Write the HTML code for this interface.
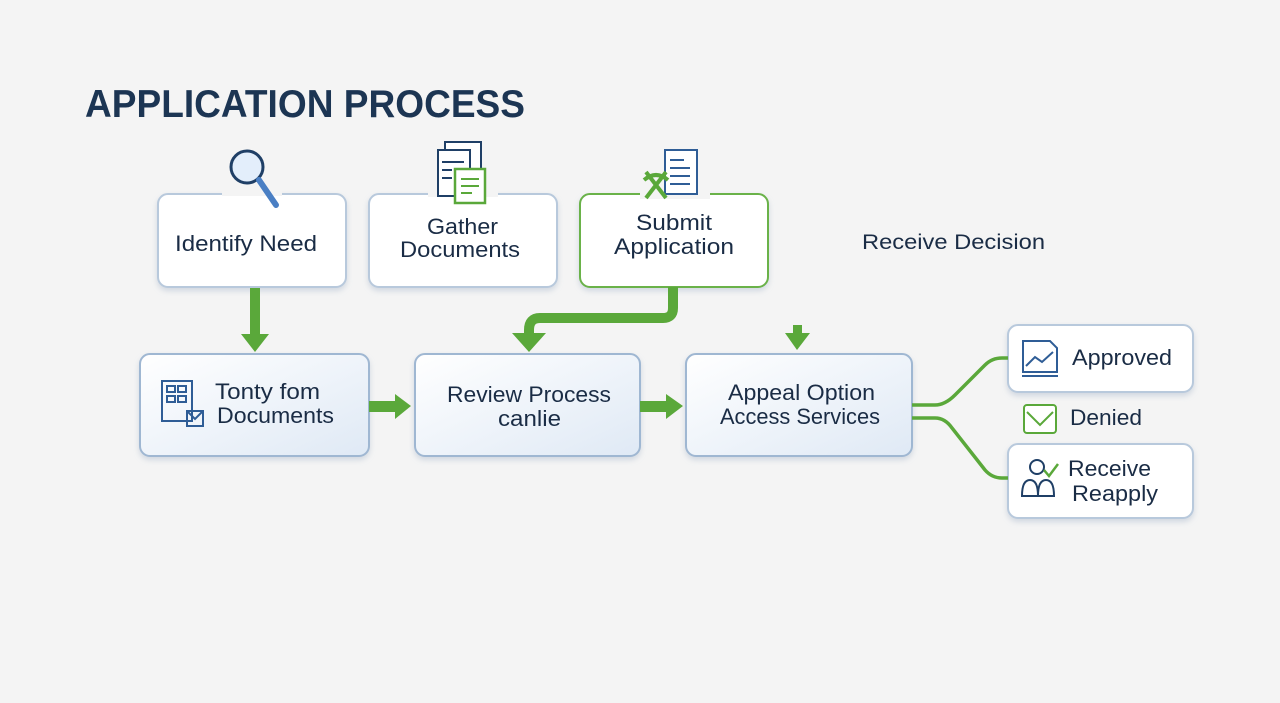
<!DOCTYPE html>
<html><head><meta charset="utf-8"><style>
body{margin:0;width:1280px;height:698px;background:#f4f4f4;overflow:hidden}
svg text{font-family:"Liberation Sans",sans-serif;fill:#1a2c45}
</style></head><body>
<svg width="1280" height="698" viewBox="0 0 1280 698">
<defs>
<linearGradient id="g" x1="0" y1="0" x2="1" y2="1"><stop offset="0" stop-color="#fff"/><stop offset="1" stop-color="#dfe9f5"/></linearGradient>
<filter id="s" x="-10%" y="-10%" width="120%" height="130%"><feDropShadow dx="0" dy="3" stdDeviation="3" flood-color="#8fa3bd" flood-opacity="0.35"/></filter>
</defs>
<text x="85" y="117" font-size="39" font-weight="bold" textLength="440" lengthAdjust="spacingAndGlyphs" style="fill:#1c3553">APPLICATION PROCESS</text>

<g filter="url(#s)">
<rect x="158" y="194" width="188" height="93" rx="10" fill="#fff" stroke="#b8c9dc" stroke-width="2"/>
<rect x="369" y="194" width="188" height="93" rx="10" fill="#fff" stroke="#b8c9dc" stroke-width="2"/>
<rect x="580" y="194" width="188" height="93" rx="10" fill="#fff" stroke="#6bb24a" stroke-width="2"/>
<rect x="140" y="354" width="229" height="102" rx="10" fill="url(#g)" stroke="#9fb7d2" stroke-width="2"/>
<rect x="415" y="354" width="225" height="102" rx="10" fill="url(#g)" stroke="#9fb7d2" stroke-width="2"/>
<rect x="686" y="354" width="226" height="102" rx="10" fill="url(#g)" stroke="#9fb7d2" stroke-width="2"/>
<rect x="1008" y="325" width="185" height="67" rx="10" fill="#fff" stroke="#b8c9dc" stroke-width="2"/>
<rect x="1008" y="444" width="185" height="74" rx="10" fill="#fff" stroke="#b8c9dc" stroke-width="2"/>
</g>

<rect x="222" y="180" width="60" height="16" fill="#f4f4f4"/>
<circle cx="247" cy="167" r="16" fill="#e3eefb" stroke="#1f3f66" stroke-width="3"/>
<line x1="259" y1="180" x2="276" y2="205" stroke="#4a7fc4" stroke-width="6" stroke-linecap="round"/>
<rect x="428" y="185" width="70" height="12" fill="#f4f4f4"/>
<rect x="445" y="142" width="36" height="44" fill="#fff" stroke="#1f3f66" stroke-width="2"/>
<rect x="438" y="150" width="32" height="46" fill="#fff" stroke="#1f3f66" stroke-width="2"/>
<rect x="455" y="169" width="30" height="34" fill="#fff" stroke="#5aa83a" stroke-width="2.5"/>
<g stroke="#1f3f66" stroke-width="2"><line x1="442" y1="162" x2="464" y2="162"/><line x1="442" y1="170" x2="452" y2="170"/><line x1="442" y1="178" x2="452" y2="178"/></g>
<g stroke="#5aa83a" stroke-width="2"><line x1="461" y1="179" x2="479" y2="179"/><line x1="461" y1="186" x2="479" y2="186"/><line x1="461" y1="193" x2="472" y2="193"/></g>
<rect x="640" y="185" width="70" height="14" fill="#f4f4f4"/>
<rect x="665" y="150" width="32" height="44" fill="#fff" stroke="#2f5d96" stroke-width="2"/>
<g stroke="#2f5d96" stroke-width="2"><line x1="670" y1="160" x2="684" y2="160"/><line x1="670" y1="168" x2="690" y2="168"/><line x1="670" y1="176" x2="690" y2="176"/><line x1="670" y1="184" x2="690" y2="184"/></g>
<path d="M646 172 L666 198 M666 172 L646 198 M644 180 Q656 170 668 180" stroke="#5aa83a" stroke-width="4" fill="none"/>

<g font-size="22">
<text x="175" y="251" textLength="142" lengthAdjust="spacingAndGlyphs">Identify Need</text>
<text x="427" y="234" textLength="71" lengthAdjust="spacingAndGlyphs">Gather</text>
<text x="400" y="257" textLength="120" lengthAdjust="spacingAndGlyphs">Documents</text>
<text x="636" y="230" textLength="76" lengthAdjust="spacingAndGlyphs">Submit</text>
<text x="614" y="254" textLength="120" lengthAdjust="spacingAndGlyphs">Application</text>
<text x="862" y="249" font-size="21" textLength="183" lengthAdjust="spacingAndGlyphs">Receive Decision</text>
<text x="215" y="399" textLength="105" lengthAdjust="spacingAndGlyphs">Tonty fom</text>
<text x="217" y="423" textLength="117" lengthAdjust="spacingAndGlyphs">Documents</text>
<text x="447" y="402" textLength="164" lengthAdjust="spacingAndGlyphs">Review Process</text>
<text x="498" y="426" textLength="63" lengthAdjust="spacingAndGlyphs">canlie</text>
<text x="728" y="400" textLength="147" lengthAdjust="spacingAndGlyphs">Appeal Option</text>
<text x="720" y="424" textLength="160" lengthAdjust="spacingAndGlyphs">Access Services</text>
<text x="1072" y="365" textLength="100" lengthAdjust="spacingAndGlyphs">Approved</text>
<text x="1070" y="425" textLength="72" lengthAdjust="spacingAndGlyphs">Denied</text>
<text x="1068" y="476" textLength="83" lengthAdjust="spacingAndGlyphs">Receive</text>
<text x="1072" y="501" textLength="86" lengthAdjust="spacingAndGlyphs">Reapply</text>
</g>
<g fill="none" stroke="#2f5d96" stroke-width="2"><rect x="162" y="381" width="30" height="40"/><rect x="167" y="386" width="8" height="6"/><rect x="178" y="386" width="8" height="6"/><rect x="167" y="396" width="8" height="6"/><rect x="178" y="396" width="8" height="6"/><rect x="187" y="411" width="16" height="15"/><path d="M187 411 L195 419 L203 411"/></g>

<g fill="#5aa83a">
<rect x="250" y="288" width="10" height="48"/><path d="M241 334 L269 334 L255 352 Z"/>
<rect x="369" y="401" width="28" height="11"/><path d="M395 394 L411 406 L395 419 Z"/>
<rect x="640" y="401" width="28" height="11"/><path d="M666 394 L683 406 L666 419 Z"/>
<rect x="793" y="325" width="9" height="10"/><path d="M785 333 L810 333 L797 350 Z"/>
<path d="M512 333 L546 333 L529 352 Z"/>
</g>
<path d="M673 287 L673 308 Q673 318 663 318 L540 318 Q529 318 529 330 L529 336" stroke="#5aa83a" stroke-width="10" fill="none"/>
<path d="M912 405 L935 405 Q945 405 955 395 L985 365 Q992 358 1002 358 L1008 358" stroke="#5aa83a" stroke-width="3.5" fill="none"/>
<path d="M912 418 L935 418 Q945 418 952 428 L985 470 Q992 478 1002 478 L1008 478" stroke="#5aa83a" stroke-width="3.5" fill="none"/>

<g fill="none" stroke="#2f5d96" stroke-width="2"><path d="M1023 341 L1050 341 L1057 348 L1057 372 L1023 372 Z"/><line x1="1022" y1="376" x2="1058" y2="376"/><path d="M1026 366 L1035 357 L1042 362 L1053 352"/></g>
<rect x="1024" y="405" width="32" height="28" rx="3" fill="#fff" stroke="#5aa83a" stroke-width="2"/>
<path d="M1027 412 L1040 425 L1053 412" stroke="#5aa83a" stroke-width="2" fill="none"/>
<g fill="none" stroke="#1f3f66" stroke-width="2"><circle cx="1037" cy="467" r="7"/><path d="M1022 496 Q1022 480 1030 480 Q1038 480 1038 496 Z M1038 496 Q1038 480 1046 480 Q1054 480 1054 496 Z"/></g>
<path d="M1044 470 L1049 476 L1058 464" stroke="#5aa83a" stroke-width="2.5" fill="none"/>
</svg>
</body></html>
